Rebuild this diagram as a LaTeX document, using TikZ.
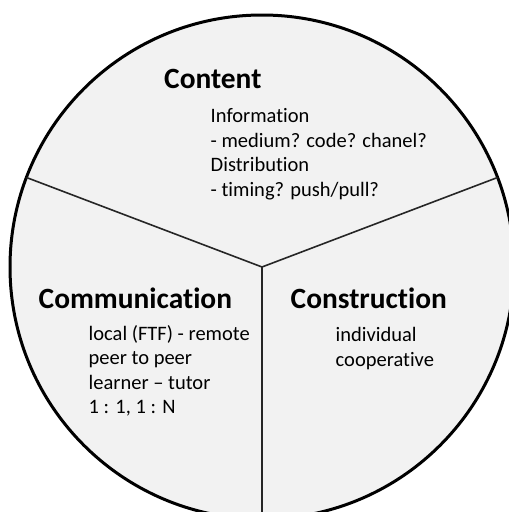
\documentclass[tikz,border=0pt]{standalone}
\usepackage{fontspec}
\setmainfont{Carlito}[Ligatures=NoCommon]
\usetikzlibrary{calc}
\definecolor{wheelfill}{HTML}{F2F2F2}
\tikzset{
  x=1pt, y=-1pt,
  rim/.style={draw=black, line width=3pt, fill=wheelfill},
  spoke/.style={draw=black!85, line width=1.6pt},
  heading/.style={anchor=base west, inner sep=0pt, font=\fontsize{29.4}{32}\selectfont\bfseries},
  bodytext/.style={anchor=base west, inner sep=0pt, align=left, font=\fontsize{20.5}{24.6}\selectfont},
}
\begin{document}
\begin{tikzpicture}
  \useasboundingbox (0,0) rectangle (509,512);
  % the wheel and its three sectors
  \coordinate (hub) at (262,267);
  \draw[rim] (hub) circle[radius=252];
  \coordinate (rimL) at ($(hub)+(-235.5,-89.5)$);
  \coordinate (rimR) at ($(hub)+(235.5,-89.5)$);
  \coordinate (rimB) at ($(hub)+(0,252)$);
  \draw[spoke] (rimL) -- (hub) -- (rimR);
  \draw[spoke] (hub) -- (rimB);
  % Content sector
  \node[heading] (content) at (164,88) {Content};
  \node[bodytext] (info1) at (210.5,122.5) {Information};
  \node[bodytext] (info2) at (210.5,147) {- medium? code? chanel?};
  \node[bodytext] (info3) at (210.5,171.5) {Distribution};
  \node[bodytext] (info4) at (210.5,196) {- timing? push/pull?};
  % Communication sector
  \node[heading] (comm) at (38.5,308) {Communication};
  \node[bodytext] (comm1) at (88.5,340) {local (FTF) - remote};
  \node[bodytext] (comm2) at (88.5,364.5) {peer to peer};
  \node[bodytext] (comm3) at (88.5,389) {learner -- tutor};
  \node[bodytext] (comm4) at (88.5,413.5) {1 : 1, 1 : N};
  % Construction sector
  \node[heading] (constr) at (290.5,308) {Construction};
  \node[bodytext] (constr1) at (335.5,341.5) {individual};
  \node[bodytext] (constr2) at (335.5,366) {cooperative};
\end{tikzpicture}
\end{document}
